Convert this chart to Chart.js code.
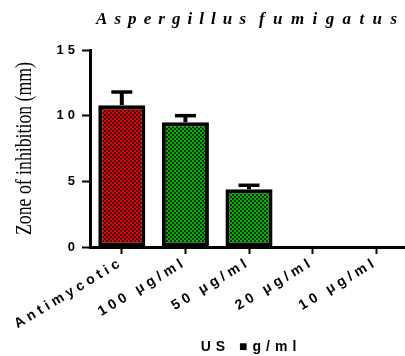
<!DOCTYPE html>
<html>
<head>
<meta charset="utf-8">
<script src="https://cdn.jsdelivr.net/npm/chart.js@4/dist/chart.umd.min.js"></script>
<style>
  html, body { margin: 0; padding: 0; background: #fff; overflow: hidden; }
  #wrap { width: 405px; height: 356px; overflow: hidden; }
  canvas { display: block; }
</style>
</head>
<body>
<div id="wrap"><canvas id="c" width="408" height="356"></canvas></div>
<script>
// Zone of inhibition against Aspergillus fumigatus
const titleWords = ['Aspergillus', 'fumigatus'];
const yTitle = 'Zone of inhibition (mm)';
const xTitle = 'US \u25A0g/ml';
const categories = ['Antimycotic', '100 \u03BCg/ml', '50 \u03BCg/ml', '20 \u03BCg/ml', '10 \u03BCg/ml'];
const meanZone = [10.8, 9.5, 4.4, 0, 0];
const sdZone = [1.0, 0.5, 0.3, 0, 0];
const yTicks = [0, 5, 10, 15];

// checkered fills
function checker(light, dark) {
  const t = document.createElement('canvas');
  t.width = 4; t.height = 4;
  const g = t.getContext('2d');
  g.fillStyle = dark; g.fillRect(0, 0, 4, 4);
  g.fillStyle = light; g.fillRect(0, 0, 2, 2); g.fillRect(2, 2, 2, 2);
  return g.createPattern(t, 'repeat');
}
const ctx0 = document.getElementById('c').getContext('2d');
const redFill = checker('#e00000', '#400000');
const greenFill = checker('#00b400', '#002c00');
const fills = categories.map((_, i) => i === 0 ? redFill : greenFill);

const spacingPlugin = {
  id: 'spacing',
  beforeUpdate(chart) { chart.ctx.letterSpacing = '4px'; },
  beforeDraw(chart) { chart.ctx.letterSpacing = '4px'; }
};

const errorBars = {
  id: 'errorBars',
  afterDatasetsDraw(chart) {
    const ctx = chart.ctx;
    const meta = chart.getDatasetMeta(0);
    const y = chart.scales.y;
    ctx.save();
    ctx.strokeStyle = '#000';
    meta.data.forEach((bar, i) => {
      if (!sdZone[i]) return;
      const top = y.getPixelForValue(meanZone[i] + sdZone[i]);
      const base = y.getPixelForValue(meanZone[i]);
      ctx.lineWidth = 4;
      ctx.beginPath(); ctx.moveTo(bar.x, base); ctx.lineTo(bar.x, top); ctx.stroke();
      ctx.lineWidth = 3.5;
      ctx.beginPath(); ctx.moveTo(bar.x - 10.5, top); ctx.lineTo(bar.x + 10.5, top); ctx.stroke();
    });
    ctx.restore();
  }
};

// draws a word with its letters spread over a given width
function spreadText(ctx, text, x, y, width) {
  ctx.letterSpacing = '0px';
  const w = ctx.measureText(text).width;
  ctx.letterSpacing = ((width - w) / (text.length - 1)) + 'px';
  ctx.fillText(text, x, y);
}

const titles = {
  id: 'titles',
  afterDraw(chart) {
    const ctx = chart.ctx;
    const area = chart.chartArea;
    ctx.save();
    ctx.fillStyle = '#000';
    ctx.textBaseline = 'middle';
    ctx.textAlign = 'left';

    // chart title
    ctx.font = 'italic bold 17px "Liberation Serif"';
    const cx = (area.left + area.right) / 2;
    spreadText(ctx, titleWords[0], cx - 153, 20, 150);
    spreadText(ctx, titleWords[1], cx + 10, 20, 138);

    // y axis title, narrow serif
    ctx.letterSpacing = '0px';
    ctx.font = '23px "Liberation Serif"';
    const yw = ctx.measureText(yTitle).width;
    ctx.translate(25, (area.top + area.bottom) / 2);
    ctx.rotate(-Math.PI / 2);
    ctx.scale(173 / yw, 1);
    ctx.textAlign = 'center';
    ctx.fillText(yTitle, 0, 0);
    ctx.setTransform(1, 0, 0, 1, 0, 0);

    // x axis title
    ctx.font = 'bold 14px "Liberation Sans"';
    ctx.letterSpacing = '5px';
    ctx.textAlign = 'center';
    ctx.fillText(xTitle, cx + 2, 347);
    ctx.restore();
  }
};

new Chart(ctx0, {
  type: 'bar',
  data: {
    labels: categories,
    datasets: [{
      data: meanZone,
      backgroundColor: fills,
      borderColor: '#000',
      borderWidth: 4,
      borderSkipped: false,
      barPercentage: 0.74,
      categoryPercentage: 1
    }]
  },
  options: {
    responsive: false,
    animation: false,
    layout: { padding: { top: 50, right: 0, left: 0, bottom: 0 } },
    plugins: { legend: { display: false }, tooltip: { enabled: false }, title: { display: false } },
    scales: {
      x: {
        grid: { display: true, drawOnChartArea: false, offset: false, color: '#000', tickLength: 7, tickWidth: 2 },
        border: { display: true, color: '#000', width: 3 },
        ticks: {
          color: '#000', autoSkip: false, minRotation: 31, maxRotation: 31, padding: 0,
          font: { family: '"Liberation Sans"', weight: 'bold', size: 14 }
        },
        afterFit(scale) { scale.height = 109; }
      },
      y: {
        min: 0, max: 15,
        afterBuildTicks(scale) { scale.ticks = yTicks.map(v => ({ value: v })); },
        grid: { display: true, drawOnChartArea: false, color: '#000', tickLength: 8, tickWidth: 2 },
        border: { display: true, color: '#000', width: 3 },
        ticks: {
          color: '#000', padding: 3,
          font: { family: '"Liberation Sans"', weight: 'bold', size: 13 }
        },
        afterFit(scale) { scale.width = 90; }
      }
    }
  },
  plugins: [spacingPlugin, errorBars, titles]
});
</script>
</body>
</html>
